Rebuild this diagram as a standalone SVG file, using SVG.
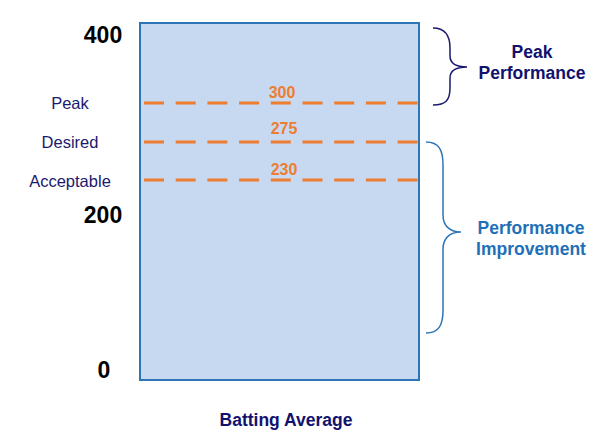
<svg xmlns="http://www.w3.org/2000/svg" width="610" height="448" viewBox="0 0 610 448">
<style>
text{font-family:"Liberation Sans",Arial,sans-serif}
.axis{font-size:23px;font-weight:bold;fill:#000;text-anchor:middle}
.lvl{font-size:16.5px;fill:#1A1A6E;text-anchor:middle}
.val{font-size:16px;font-weight:bold;fill:#ED7D31;text-anchor:middle}
.dash{stroke:#ED7D31;stroke-width:3;stroke-dasharray:20 11.7;fill:none}
.ttl{font-size:17.5px;font-weight:bold;text-anchor:middle}
</style>
<rect x="0" y="0" width="610" height="448" fill="#fff"/>
<g id="chart">
<rect x="140" y="23" width="279" height="357" fill="#C6D9F1" stroke="#2E75B6" stroke-width="2"/>
</g>
<g id="axis-labels">
<text class="axis" x="103" y="43">400</text>
<text class="axis" x="103" y="223">200</text>
<text class="axis" x="104" y="378">0</text>
</g>
<g id="levels">
<g id="peak">
<line class="dash" x1="144" y1="103" x2="419" y2="103"/>
<text class="lvl" x="70" y="109">Peak</text>
<text class="val" x="282" y="98">300</text>
</g>
<g id="desired">
<line class="dash" x1="144" y1="142" x2="419" y2="142"/>
<text class="lvl" x="70" y="148">Desired</text>
<text class="val" x="284" y="134">275</text>
</g>
<g id="acceptable">
<line class="dash" x1="144" y1="180" x2="419" y2="180"/>
<text class="lvl" x="70" y="187">Acceptable</text>
<text class="val" x="284" y="175">230</text>
</g>
</g>
<g id="connectors" fill="none" stroke-width="1.5">
<path d="M433 28 C446 28 450 36 450 48 L450 56 C450 64 456 67 467 67 C456 67 450 70 450 78 L450 88 C450 100 446 105 433 105" stroke="#1A1A6E"/>
<path d="M426 142 C439 142 443 150 443 165 L443 215 C443 226 450 232 461 232 C450 232 443 238 443 249 L443 310 C443 325 439 333 426 333" stroke="#2E75B6"/>
</g>
<g id="peak-performance">
<text class="ttl" x="532" y="58" fill="#12126E">Peak</text>
<text class="ttl" x="532" y="79" fill="#12126E">Performance</text>
</g>
<g id="performance-improvement">
<text class="ttl" x="531" y="234" fill="#1F70B8">Performance</text>
<text class="ttl" x="531" y="255" fill="#1F70B8">Improvement</text>
</g>
<g id="x-title">
<text class="ttl" x="286" y="426" fill="#12126E">Batting Average</text>
</g>
</svg>
